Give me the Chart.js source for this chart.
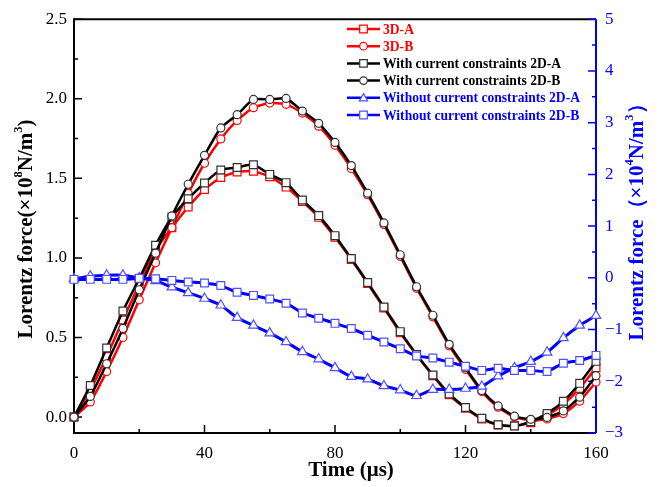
<!DOCTYPE html>
<html>
<head>
<meta charset="utf-8">
<script src="https://cdn.jsdelivr.net/npm/chart.js@4.4.1/dist/chart.umd.min.js"></script>
<style>
  body { margin: 0; background: #fff; }
  canvas { display: block; }
</style>
</head>
<body>
<canvas id="forceChart" width="664" height="487"></canvas>
<script>
// time axis (µs), one marker every 5 µs
const timeUs = [0, 5, 10, 15, 20, 25, 30, 35, 40, 45, 50, 55, 60, 65, 70, 75, 80,
    85, 90, 95, 100, 105, 110, 115, 120, 125, 130, 135, 140, 145, 150, 155, 160];

// left axis, ×10^8 N/m^3
const force3DA = [0, 0.17, 0.38, 0.61, 0.835, 1.05, 1.19, 1.32, 1.43, 1.505, 1.54, 1.545, 1.51, 1.445, 1.355, 1.255, 1.13,
    0.99, 0.84, 0.685, 0.53, 0.39, 0.26, 0.14, 0.055, -0.012, -0.05, -0.055, -0.035, 0.01, 0.08, 0.18, 0.31];
const force3DB = [0, 0.095, 0.286, 0.5, 0.737, 0.969, 1.19, 1.405, 1.595, 1.748, 1.864, 1.944, 1.973, 1.965, 1.91, 1.828, 1.708,
    1.562, 1.397, 1.21, 1.01, 0.81, 0.63, 0.448, 0.3, 0.16, 0.062, 0.0, -0.02, -0.012, 0.022, 0.1, 0.22];
const forceWith2DA = [0, 0.198, 0.434, 0.667, 0.87, 1.08, 1.257, 1.372, 1.471, 1.553, 1.568, 1.586, 1.525, 1.473, 1.364, 1.266, 1.14,
    0.996, 0.846, 0.691, 0.537, 0.393, 0.264, 0.146, 0.06, -0.008, -0.048, -0.056, -0.029, 0.023, 0.099, 0.212, 0.35];
const forceWith2DB = [0, 0.13, 0.335, 0.557, 0.8, 1.03, 1.264, 1.463, 1.645, 1.817, 1.9, 1.996, 1.996, 2.002, 1.923, 1.846, 1.726,
    1.58, 1.407, 1.22, 1.02, 0.819, 0.64, 0.457, 0.31, 0.167, 0.07, 0.006, -0.014, -0.002, 0.039, 0.125, 0.26];

// right axis, ×10^4 N/m^3
const forceWithout2DA = [-0.02, 0.03, 0.05, 0.05, 0.0, -0.06, -0.18, -0.29, -0.4, -0.53, -0.77, -0.92, -1.07, -1.24, -1.43, -1.57, -1.74,
    -1.91, -1.96, -2.09, -2.17, -2.28, -2.16, -2.16, -2.14, -2.1, -1.9, -1.74, -1.62, -1.44, -1.16, -0.92, -0.73];
const forceWithout2DB = [-0.03, -0.03, -0.03, -0.03, -0.01, -0.02, -0.05, -0.08, -0.1, -0.15, -0.28, -0.34, -0.41, -0.49, -0.68, -0.78, -0.88,
    -0.98, -1.11, -1.24, -1.37, -1.51, -1.55, -1.63, -1.71, -1.79, -1.75, -1.79, -1.79, -1.81, -1.65, -1.6, -1.5];

const xTicks = [0, 40, 80, 120, 160];
const leftTicks = [0, 0.5, 1.0, 1.5, 2.0, 2.5];
const rightTicks = [-3, -2, -1, 0, 1, 2, 3, 4, 5];

const serif = "'Liberation Serif', 'Times New Roman', serif";
const RED = '#ff0000';
const BLUE = '#0000ff';

const toPoints = values => values.map((v, i) => ({ x: timeUs[i], y: v }));

function makeSeries(label, values, axis, color, markerColor, style, labelColor, order) {
    return {
        label: label,
        data: toPoints(values),
        yAxisID: axis,
        borderColor: color,
        borderWidth: axis === 'y1' ? 3 : 2.5,
        pointStyle: style,
        pointRadius: style === 'circle' ? 4 : 5.5,
        pointBorderWidth: 1.2,
        pointBorderColor: markerColor,
        pointBackgroundColor: '#fff',
        tension: 0.2,
        clip: false,
        order: order,
        labelColor: labelColor
    };
}

// draw text with superscript parts, starting at x
function drawRich(ctx, parts, x, y, size, weight) {
    let cx = x;
    parts.forEach(p => {
        const s = p.sup ? size * 0.6 : size;
        ctx.font = `${weight} ${s}px ${serif}`;
        ctx.fillText(p.t, cx, p.sup ? y - size * 0.38 : y);
        cx += ctx.measureText(p.t).width;
    });
}
function richWidth(ctx, parts, size, weight) {
    let w = 0;
    parts.forEach(p => {
        ctx.font = `${weight} ${p.sup ? size * 0.6 : size}px ${serif}`;
        w += ctx.measureText(p.t).width;
    });
    return w;
}

function drawMarker(ctx, style, x, y, r) {
    ctx.beginPath();
    if (style === 'rect') {
        ctx.rect(x - r, y - r, 2 * r, 2 * r);
    } else if (style === 'circle') {
        ctx.arc(x, y, r, 0, Math.PI * 2);
    } else {
        ctx.moveTo(x, y - r * 1.1);
        ctx.lineTo(x + r * 1.1, y + r * 0.8);
        ctx.lineTo(x - r * 1.1, y + r * 0.8);
        ctx.closePath();
    }
    ctx.fill();
    ctx.stroke();
}

const frameTicks = {
    id: 'frameTicks',
    beforeDatasetsDraw(chart) {
        const { ctx, chartArea: a, scales } = chart;
        ctx.save();
        ctx.lineWidth = 2;
        ctx.strokeStyle = '#000';
        ctx.beginPath();
        ctx.moveTo(a.right, a.top);
        ctx.lineTo(a.left, a.top);
        ctx.lineTo(a.left, a.bottom);
        ctx.lineTo(a.right, a.bottom);
        ctx.stroke();

        ctx.lineWidth = 1.5;
        ctx.beginPath();
        for (let v = 0; v <= 160; v += 20) {
            const px = scales.x.getPixelForValue(v);
            ctx.moveTo(px, a.bottom);
            ctx.lineTo(px, a.bottom - (v % 40 === 0 ? 8 : 4));
        }
        for (let k = 0; k <= 10; k++) {
            const py = scales.y.getPixelForValue(k * 0.25);
            ctx.moveTo(a.left, py);
            ctx.lineTo(a.left + (k % 2 === 0 ? 8 : 4), py);
        }
        ctx.stroke();

        ctx.strokeStyle = BLUE;
        ctx.lineWidth = 2;
        ctx.beginPath();
        ctx.moveTo(a.right, a.top);
        ctx.lineTo(a.right, a.bottom);
        ctx.stroke();
        ctx.lineWidth = 1.5;
        ctx.beginPath();
        for (let k = 0; k <= 16; k++) {
            const py = scales.y1.getPixelForValue(-3 + k * 0.5);
            ctx.moveTo(a.right, py);
            ctx.lineTo(a.right - (k % 2 === 0 ? 8 : 4), py);
        }
        ctx.stroke();
        ctx.restore();
    },
    afterDraw(chart) {
        const { ctx } = chart;
        ctx.save();
        ctx.textBaseline = 'middle';
        ctx.textAlign = 'left';

        // x title
        ctx.fillStyle = '#000';
        ctx.font = `bold 21px ${serif}`;
        ctx.textAlign = 'center';
        ctx.fillText('Time (μs)', 351, 471);
        ctx.textAlign = 'left';

        // left title
        const leftParts = [{ t: 'Lorentz force(×10' }, { t: '8', sup: true }, { t: 'N/m' }, { t: '3', sup: true }, { t: ')' }];
        ctx.save();
        ctx.translate(27, 229);
        ctx.rotate(-Math.PI / 2);
        drawRich(ctx, leftParts, -richWidth(ctx, leftParts, 21, 'bold') / 2, 0, 21, 'bold');
        ctx.restore();

        // right title
        const rightParts = [{ t: 'Lorentz force（×10' }, { t: '4', sup: true }, { t: 'N/m' }, { t: '3', sup: true }, { t: '）' }];
        ctx.save();
        ctx.fillStyle = BLUE;
        ctx.translate(638, 217);
        ctx.rotate(-Math.PI / 2);
        drawRich(ctx, rightParts, -richWidth(ctx, rightParts, 21, 'bold') / 2, 0, 21, 'bold');
        ctx.restore();

        // legend
        chart.data.datasets.forEach((ds, i) => {
            const y = 29 + i * 17.2;
            ctx.strokeStyle = ds.borderColor;
            ctx.lineWidth = 2.5;
            ctx.beginPath();
            ctx.moveTo(347, y);
            ctx.lineTo(380, y);
            ctx.stroke();
            ctx.fillStyle = '#fff';
            ctx.strokeStyle = ds.pointBorderColor;
            ctx.lineWidth = 1.2;
            drawMarker(ctx, ds.pointStyle, 363.5, y, 3.8);
            ctx.fillStyle = ds.labelColor;
            ctx.font = `bold 13.6px ${serif}`;
            ctx.fillText(ds.label, 383, y + 1);
        });
        ctx.restore();
    }
};

const ctx = document.getElementById('forceChart').getContext('2d');
const forceChart = new Chart(ctx, {
    type: 'line',
    data: {
        datasets: [
            makeSeries('3D-A', force3DA, 'y', RED, RED, 'rect', RED, 6),
            makeSeries('3D-B', force3DB, 'y', RED, RED, 'circle', RED, 5),
            makeSeries('With current constraints 2D-A', forceWith2DA, 'y', '#000', '#333', 'rect', '#000', 4),
            makeSeries('With current constraints 2D-B', forceWith2DB, 'y', '#000', '#333', 'circle', '#000', 3),
            makeSeries('Without current constraints 2D-A', forceWithout2DA, 'y1', BLUE, '#5050ff', 'triangle', BLUE, 2),
            makeSeries('Without current constraints 2D-B', forceWithout2DB, 'y1', BLUE, '#5050ff', 'rect', BLUE, 1)
        ]
    },
    options: {
        responsive: false,
        animation: false,
        events: [],
        layout: { padding: { top: 12 } },
        plugins: {
            legend: { display: false },
            tooltip: { enabled: false }
        },
        scales: {
            x: {
                type: 'linear',
                min: 0,
                max: 160,
                grid: { display: false, drawTicks: false },
                border: { display: false },
                afterBuildTicks: s => { s.ticks = xTicks.map(v => ({ value: v })); },
                ticks: { font: { family: serif, size: 17 }, color: '#000', padding: 10, maxRotation: 0 },
                afterFit: s => { s.height = 54; }
            },
            y: {
                position: 'left',
                min: -0.1,
                max: 2.5,
                grid: { display: false, drawTicks: false },
                border: { display: false },
                afterBuildTicks: s => { s.ticks = leftTicks.map(v => ({ value: v })); },
                ticks: { font: { family: serif, size: 17 }, color: '#000', padding: 7, callback: v => v.toFixed(1) },
                afterFit: s => { s.width = 74; }
            },
            y1: {
                position: 'right',
                min: -3,
                max: 5,
                grid: { display: false, drawTicks: false },
                border: { display: false },
                afterBuildTicks: s => { s.ticks = rightTicks.map(v => ({ value: v })); },
                ticks: { font: { family: serif, size: 17 }, color: BLUE, padding: 9, callback: v => v < 0 ? '−' + Math.abs(v) : String(v) },
                afterFit: s => { s.width = 68; }
            }
        }
    },
    plugins: [frameTicks]
});
</script>
</body>
</html>
